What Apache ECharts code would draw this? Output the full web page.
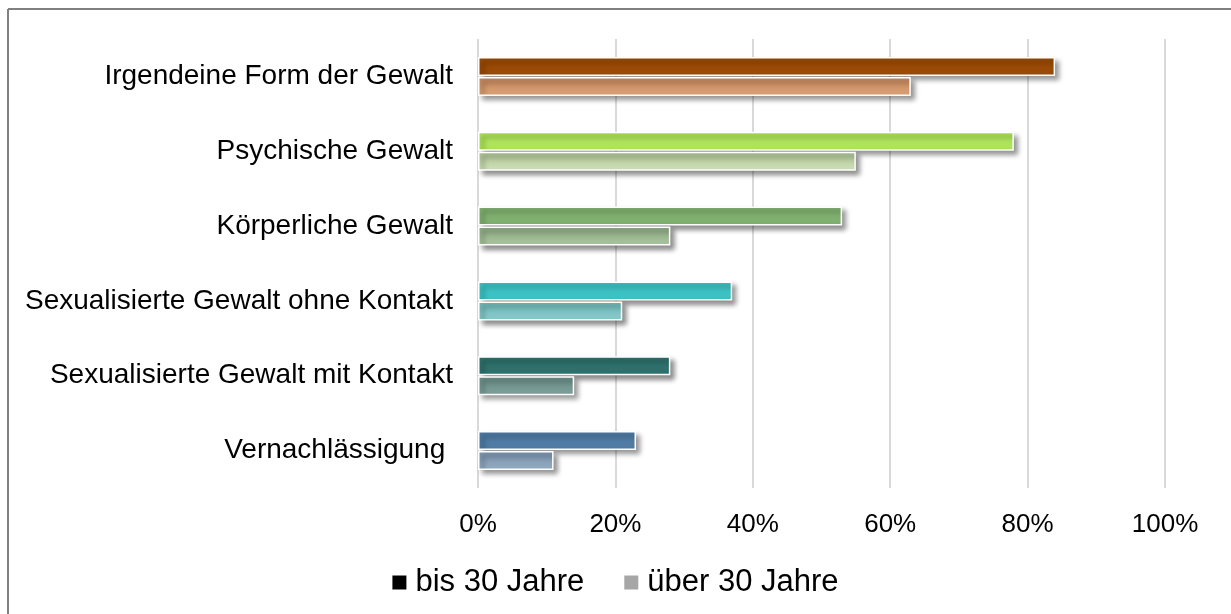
<!DOCTYPE html>
<html>
<head>
<meta charset="utf-8">
<script src="https://cdn.jsdelivr.net/npm/echarts@6/dist/echarts.min.js"></script>
<style>
  html, body { margin: 0; padding: 0; background: #fff; }
  #chart { width: 1231px; height: 614px; }
</style>
</head>
<body>
<div id="chart"></div>
<script>
var categories = [
  'Irgendeine Form der Gewalt',
  'Psychische Gewalt',
  'Körperliche Gewalt',
  'Sexualisierte Gewalt ohne Kontakt',
  'Sexualisierte Gewalt mit Kontakt',
  'Vernachlässigung '
];
var bis30 = [84, 78, 53, 37, 28, 23];
var ueber30 = [63, 55, 28, 21, 14, 11];

var bisColors = ['#9A4A06', '#AEE45A', '#80B070', '#3CC2C4', '#2E716C', '#4F7BA4'];
// [top, bottom] of the lighter bars
var ueberColors = [
  ['#C4865A', '#DCA277'],
  ['#A9C190', '#D0E2BA'],
  ['#8CA881', '#AAC69E'],
  ['#6DB7B7', '#88CCCC'],
  ['#688C85', '#7EA09A'],
  ['#7A93AD', '#94ACC2']
];

var chartDom = document.getElementById('chart');
var myChart = echarts.init(chartDom);

var barShadow = {
  borderColor: '#ffffff',
  borderWidth: 1.5,
  shadowBlur: 5,
  shadowOffsetX: 4,
  shadowOffsetY: 4,
  shadowColor: 'rgba(0,0,0,0.45)'
};

var option = {
  backgroundColor: '#fff',
  textStyle: { fontFamily: 'Liberation Sans' },
  animation: false,
  graphic: [
    { type: 'line', shape: { x1: 8, y1: 9, x2: 1231, y2: 9 }, style: { stroke: '#808080', lineWidth: 2 } },
    { type: 'line', shape: { x1: 8, y1: 9, x2: 8, y2: 614 }, style: { stroke: '#808080', lineWidth: 2 } }
  ],
  grid: { left: 478, right: 66, top: 39, bottom: 126 },
  legend: {
    top: 562,
    left: 'center',
    itemWidth: 14,
    itemHeight: 14,
    itemGap: 40,
    icon: 'rect',
    textStyle: { fontSize: 31, color: '#000', fontFamily: 'Liberation Sans', padding: [0, 0, 0, 4] },
    data: ['bis 30 Jahre', 'über 30 Jahre']
  },
  xAxis: {
    type: 'value',
    min: 0,
    max: 100,
    interval: 20,
    axisLine: { show: false },
    axisTick: { show: false },
    axisLabel: { formatter: '{value}%', fontSize: 26, color: '#000', margin: 24 },
    splitLine: { lineStyle: { color: '#D9D9D9', width: 2 } }
  },
  yAxis: {
    type: 'category',
    inverse: true,
    data: categories,
    axisLine: { show: false },
    axisTick: { show: false },
    axisLabel: { fontSize: 28, color: '#000', margin: 25 }
  },
  series: [
    {
      name: 'bis 30 Jahre',
      type: 'bar',
      barWidth: 19,
      barGap: '5%',
      itemStyle: { color: '#000' },
      data: bis30.map(function (v, i) {
        return { value: v, itemStyle: Object.assign({ color: bisColors[i] }, barShadow) };
      })
    },
    {
      name: 'über 30 Jahre',
      type: 'bar',
      barWidth: 19,
      barGap: '5%',
      itemStyle: { color: '#A6A6A6' },
      data: ueber30.map(function (v, i) {
        return {
          value: v,
          itemStyle: Object.assign({
            color: new echarts.graphic.LinearGradient(0, 0, 0, 1, [
              { offset: 0, color: ueberColors[i][0] },
              { offset: 1, color: ueberColors[i][1] }
            ])
          }, barShadow)
        };
      })
    }
  ]
};
option && myChart.setOption(option);
</script>
</body>
</html>
